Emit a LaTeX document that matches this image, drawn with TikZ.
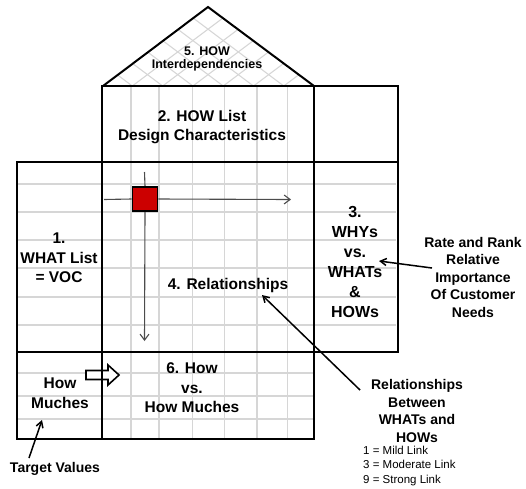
\documentclass[tikz,border=0pt]{standalone}
\usepackage{fontspec}
\setmainfont{Liberation Sans}
\usetikzlibrary{arrows.meta}
\definecolor{qfdred}{HTML}{CC0000}
\definecolor{gridgray}{HTML}{D6D6D6}
\begin{document}
\begin{tikzpicture}[x=1pt,y=-1pt,
  frame/.style={line width=2pt, draw=black, line join=miter},
  gridline/.style={line width=1.1pt, draw=gridgray},
  guideline/.style={line width=1.1pt, draw=black!70},
  guide/.style={guideline, -{Straight Barb[length=6pt,width=9pt]}},
  note/.style={line width=1.5pt, draw=black, -{Straight Barb[length=6pt,width=7pt]}},
  cellmark/.style={draw=black, line width=1.8pt, fill=qfdred, minimum width=25pt, minimum height=24pt, inner sep=0pt},
  lbl/.style={font=\fontsize{15.5}{19.5}\selectfont\bfseries, align=center, inner sep=0pt},
  rooflbl/.style={font=\fontsize{12.5}{13}\selectfont\bfseries, align=center, inner sep=0pt},
  whylbl/.style={font=\fontsize{16}{20}\selectfont\bfseries, align=center, inner sep=0pt},
  side/.style={font=\fontsize{14}{17.5}\selectfont\bfseries, align=center, inner sep=0pt},
  legendlbl/.style={font=\fontsize{11.5}{14.5}\selectfont, align=left, inner sep=0pt}
]
\useasboundingbox (0,0) rectangle (526,488);

% ---- light grid inside the sections ----
% roof cross-hatch
\begin{scope}
  \clip (103,86) -- (208,7) -- (314,86) -- cycle;
  \foreach \i in {-8,...,15} {
    \draw[gridline] ({102+30.3*\i},86) -- ++(140,-105);
    \draw[gridline] ({102+30.3*\i},86) -- ++(-140,-105);
  }
\end{scope}
% column lines through the HOW list and the matrix below
\foreach \x in {131,159,192.5,224.5,257,287.5} {
  \draw[gridline] (\x,86) -- (\x,161);
  \draw[gridline] (\x,162) -- (\x,352);
  \draw[gridline] (\x,352) -- (\x,439);
}
% row lines of the WHAT list, the matrix and the WHY columns
\foreach \y in {184,212,240,268,297,325} {
  \draw[gridline] (17,\y) -- (396,\y);
}
% row lines of the bottom band
\foreach \y in {373,396,419} {
  \draw[gridline] (17,\y) -- (314,\y);
}

% ---- guide arrows from the marked cell ----
\node[cellmark] (cell) at (145,199) {};
\coordinate (rowEnd) at (291,199.5);
\coordinate (rowStart) at (104,199.5);
\coordinate (colStart) at (144.5,172);
\coordinate (colEnd) at (144.5,341);
\draw[guideline] (rowStart) -- (cell.west);
\draw[guide] (cell.east) -- (rowEnd);
\draw[guideline] (colStart) -- (cell.north);
\draw[guide] (cell.south) -- (colEnd);
\node[cellmark] at (cell) {};

% ---- hollow arrow from How Muches into the bottom band ----
\draw[line width=1.6pt, fill=white, line join=miter]
  (86,370.5) -- (108,370.5) -- (108,365) -- (119,375) -- (108,385) -- (108,379.5) -- (86,379.5) -- cycle;

% ---- section outlines ----
\draw[frame] (103,86) -- (208,7) -- (314,86);
\draw[frame] (102,86) rectangle (314,161.5);
\draw[frame] (314,86) rectangle (398,161.5);
\draw[frame] (17,161.5) rectangle (102,352);
\draw[frame] (102,161.5) rectangle (314,352);
\draw[frame] (314,161.5) rectangle (398,352);
\draw[frame] (17,352) rectangle (102,439);
\draw[frame] (102,352) rectangle (314,439);

% ---- section labels ----
\node[rooflbl] (roof) at (207,59) {5. HOW\\Interdependencies};
\node[lbl] (howlist) at (202,127) {2. HOW List\\Design Characteristics};
\node[lbl] (what) at (59,258) {1.\\WHAT List\\= VOC};
\node[lbl] (rel) at (228,285) {4. Relationships};
\node[whylbl] (whys) at (355,262) {3.\\WHYs\\vs.\\WHATs\\\&\\HOWs};
\node[lbl] (muches) at (60,393) {How\\Muches};
\node[lbl] (howvs) at (192,388) {6. How\\vs.\\How Muches};

% ---- side notes ----
\node[side] (rate) at (473,277) {Rate and Rank\\Relative\\Importance\\Of Customer\\Needs};
\node[side] (relnote) at (417,411) {Relationships\\Between\\WHATs and\\HOWs};
\node[side] (target) at (55,469) {Target Values};
\node[legendlbl, anchor=west] (legend) at (363,466) {1 = Mild Link\\3 = Moderate Link\\9 = Strong Link};

% ---- note arrows ----
\coordinate (rateTail) at (432,268);
\coordinate (whysTip) at (379,261);
\coordinate (relTail) at (360,390);
\coordinate (relTip) at (262,295);
\coordinate (targetTail) at (29,458);
\coordinate (targetTip) at (42,420);
\draw[note] (rateTail) -- (whysTip);
\draw[note] (relTail) -- (relTip);
\draw[note] (targetTail) -- (targetTip);
\end{tikzpicture}
\end{document}
